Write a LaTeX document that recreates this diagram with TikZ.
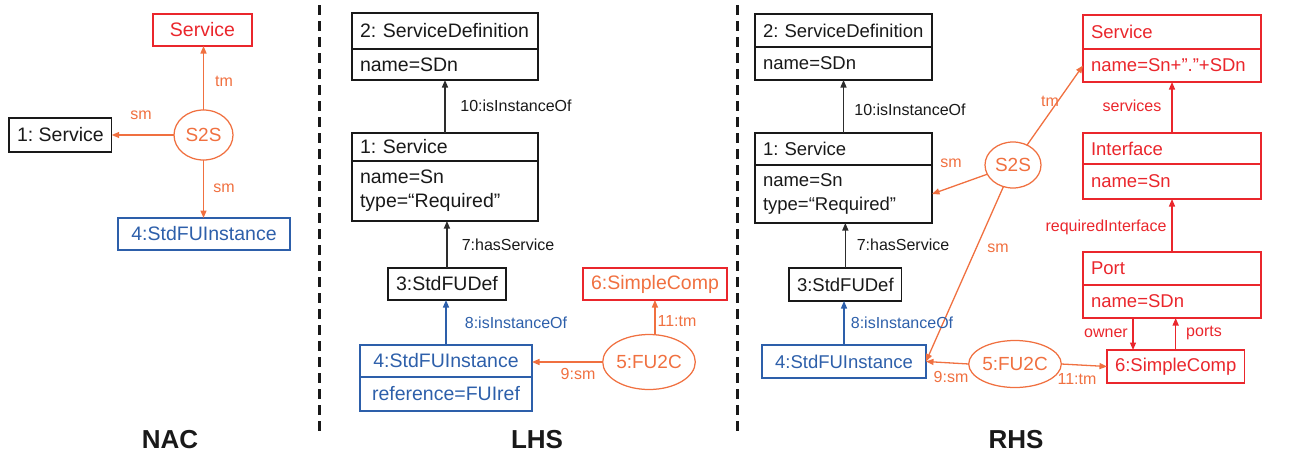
\documentclass[tikz,border=0pt]{standalone}
\usepackage{fontspec}
\setmainfont{Liberation Sans}
\AtBeginDocument{\frenchspacing}
\usetikzlibrary{arrows.meta,shapes.geometric}
\definecolor{cOr}{RGB}{240,112,64}
\definecolor{cRd}{RGB}{234,38,44}
\definecolor{cBl}{RGB}{45,95,170}
\definecolor{cBk}{RGB}{25,25,25}
\definecolor{cLn}{RGB}{45,45,45}
\begin{document}
\begin{tikzpicture}[x=1pt,y=-1pt,
  every node/.style={outer sep=0pt},
  bx/.style={draw=cBk, text=cBk, rectangle, line width=1.25pt, anchor=north west, inner xsep=8pt, inner ysep=0pt, font=\fontsize{19.5}{24}\selectfont},
  bxr/.style={bx, font=\fontsize{18.5}{24}\selectfont},
  ell/.style={draw=cOr, text=cOr, ellipse, line width=1.25pt, inner sep=0pt, font=\fontsize{19}{24}\selectfont},
  lbl/.style={font=\fontsize{16}{18}\selectfont, inner sep=0pt},
  arr/.style={line width=1.3pt, -{Triangle[length=7.5pt,width=6pt]}},
  ttl/.style={font=\fontsize{26}{30}\selectfont\bfseries, text=cBk},
  sepline/.style={line width=3pt, dash pattern=on 10pt off 6pt, cBk}
]
\useasboundingbox (0,0) rectangle (1290,458);

% separators
\draw[sepline] (319,5) -- (319,431);
\draw[sepline] (737,5) -- (737,431);

% ================= NAC =================
\node[bx, draw=cRd, text=cRd, minimum width=99pt, minimum height=32pt] (nS) at (153,14) {Service};
\node[ell, minimum width=59pt, minimum height=50pt] (nS2S) at (203.5,135) {S2S};
\node[bx, minimum width=99pt, minimum height=34pt] (n1) at (9,118) {1: Service};
\node[bx, draw=cBl, text=cBl, minimum width=172pt, minimum height=32pt] (n4) at (118,218) {4:StdFUInstance};

\draw[arr, cOr] (nS2S.north) -- (nS2S.north |- nS.south);
\draw[arr, cOr] (nS2S.west) -- (nS2S.west -| n1.east);
\draw[arr, cOr] (nS2S.south) -- (nS2S.south |- n4.north);
\node[lbl, text=cOr] (nltm) at (224,81) {tm};
\node[lbl, text=cOr] (nlsm1) at (141,115) {sm};
\node[lbl, text=cOr] (nlsm2) at (224,188) {sm};
\node[ttl] (tNAC) at (170,440) {NAC};

% ================= LHS =================
\node[bx, text width=170pt, minimum height=36pt, align=left] (l2h) at (352,13) {2: ServiceDefinition};
\node[bx, text width=170pt, minimum height=31pt, align=left] (l2a) at (352,49) {name=SDn};
\node[bx, text width=170pt, minimum height=28pt, align=left] (l1h) at (352,133) {1: Service};
\node[bx, text width=170pt, minimum height=60pt, align=left] (l1a) at (352,161) {name=Sn\\type=“Required”};
\node[bx, minimum width=115pt, minimum height=32pt] (l3) at (388,268) {3:StdFUDef};
\node[bx, draw=cBl, text=cBl, minimum width=172pt, minimum height=32pt] (l4h) at (360,345) {4:StdFUInstance};
\node[bx, draw=cBl, text=cBl, minimum width=172pt, minimum height=34pt] (l4a) at (360,377) {reference=FUIref};
\node[ell, minimum width=70pt, minimum height=55pt] (l5) at (649,362) {5:FU2C};
\node[bx, draw=cRd, text=cOr, minimum width=138pt, minimum height=32pt] (l6) at (583,268) {6:SimpleComp};

\draw[arr, cLn] (l1h.north) -- (l1h.north |- l2a.south);
\draw[arr, cLn] (l3.north) -- (l3.north |- l1a.south);
\draw[arr, cBl] (l4h.north) -- (l4h.north |- l3.south);
\draw[arr, cOr] (l5.north -| l6.south) -- (l6.south);
\draw[arr, cOr] (l5.west) -- (l5.west -| l4h.east);
\node[lbl, text=cBk] (ll10) at (516,106) {10:isInstanceOf};
\node[lbl, text=cBk] (ll7) at (508,245) {7:hasService};
\node[lbl, text=cBl] (ll8) at (516,323) {8:isInstanceOf};
\node[lbl, text=cOr] (ll11) at (677,321) {11:tm};
\node[lbl, text=cOr] (ll9) at (578,374) {9:sm};
\node[ttl] (tLHS) at (537,440) {LHS};

% ================= RHS =================
\node[bxr, text width=161pt, minimum height=33pt, align=left] (r2h) at (755,14) {2: ServiceDefinition};
\node[bxr, text width=161pt, minimum height=33pt, align=left] (r2a) at (755,47) {name=SDn};
\node[bxr, text width=161pt, minimum height=32pt, align=left] (r1h) at (755,133) {1: Service};
\node[bxr, text width=161pt, minimum height=58pt, align=left] (r1a) at (755,165) {name=Sn\\type=“Required”};
\node[bxr, minimum width=109pt, minimum height=33pt] (r3) at (789,268) {3:StdFUDef};
\node[bxr, draw=cBl, text=cBl, minimum width=164pt, minimum height=33pt] (r4) at (762,345) {4:StdFUInstance};
\node[ell, minimum width=56pt, minimum height=46pt] (rS2S) at (1013,165) {S2S};
\node[ell, minimum width=76pt, minimum height=47pt] (r5) at (1015,364) {5:FU2C};
\node[bxr, draw=cRd, text=cRd, minimum width=132pt, minimum height=33pt] (r6) at (1107,350) {6:SimpleComp};
\node[bxr, draw=cRd, text=cRd, text width=162pt, minimum height=34pt, align=left] (rSh) at (1083,15) {Service};
\node[bxr, draw=cRd, text=cRd, text width=162pt, minimum height=33pt, align=left] (rSa) at (1083,49) {name=Sn+”.”+SDn};
\node[bxr, draw=cRd, text=cRd, text width=162pt, minimum height=31pt, align=left] (rIh) at (1083,133) {Interface};
\node[bxr, draw=cRd, text=cRd, text width=162pt, minimum height=35pt, align=left] (rIa) at (1083,164) {name=Sn};
\node[bxr, draw=cRd, text=cRd, text width=162pt, minimum height=33pt, align=left] (rPh) at (1083,252) {Port};
\node[bxr, draw=cRd, text=cRd, text width=162pt, minimum height=33pt, align=left] (rPa) at (1083,285) {name=SDn};

\draw[arr, cLn] (r1h.north) -- (r1h.north |- r2a.south);
\draw[arr, cLn] (r3.north) -- (r3.north |- r1a.south);
\draw[arr, cBl] (r4.north) -- (r4.north |- r3.south);
\draw[arr, cOr] (rS2S) -- (r1a.east);
\draw[arr, cOr] (rS2S) -- (rSa.west);
\draw[arr, cOr] (rS2S) -- (r4.east);
\draw[arr, cOr] (r5.west) -- (r4.east);
\draw[arr, cOr] (r5.east) -- (r6.west);
\draw[arr, cRd] (rIh.north) -- (rSa.south);
\draw[arr, cRd] (rPh.north) -- (rIa.south);
\draw[arr, cRd] ([xshift=-39pt]rPa.south) -- ([xshift=-39pt]rPa.south |- r6.north);
\draw[arr, cRd] (r6.north) -- (r6.north |- rPa.south);

\node[lbl, text=cBk] (rl10) at (910,110) {10:isInstanceOf};
\node[lbl, text=cBk] (rl7) at (903,245) {7:hasService};
\node[lbl, text=cBl] (rl8) at (902,323) {8:isInstanceOf};
\node[lbl, text=cOr] (rlsm1) at (951,163) {sm};
\node[lbl, text=cOr] (rltm) at (1050,101) {tm};
\node[lbl, text=cOr] (rlsm2) at (998,248) {sm};
\node[lbl, text=cOr] (rl9) at (951,377) {9:sm};
\node[lbl, text=cOr] (rl11) at (1077,379) {11:tm};
\node[lbl, text=cRd] (rlsv) at (1132,106) {services};
\node[lbl, text=cRd] (rlri) at (1106,227) {requiredInterface};
\node[lbl, text=cRd] (rlow) at (1106,333) {owner};
\node[lbl, text=cRd] (rlpt) at (1204,333) {ports};
\node[ttl] (tRHS) at (1016,440) {RHS};
\end{tikzpicture}
\end{document}
